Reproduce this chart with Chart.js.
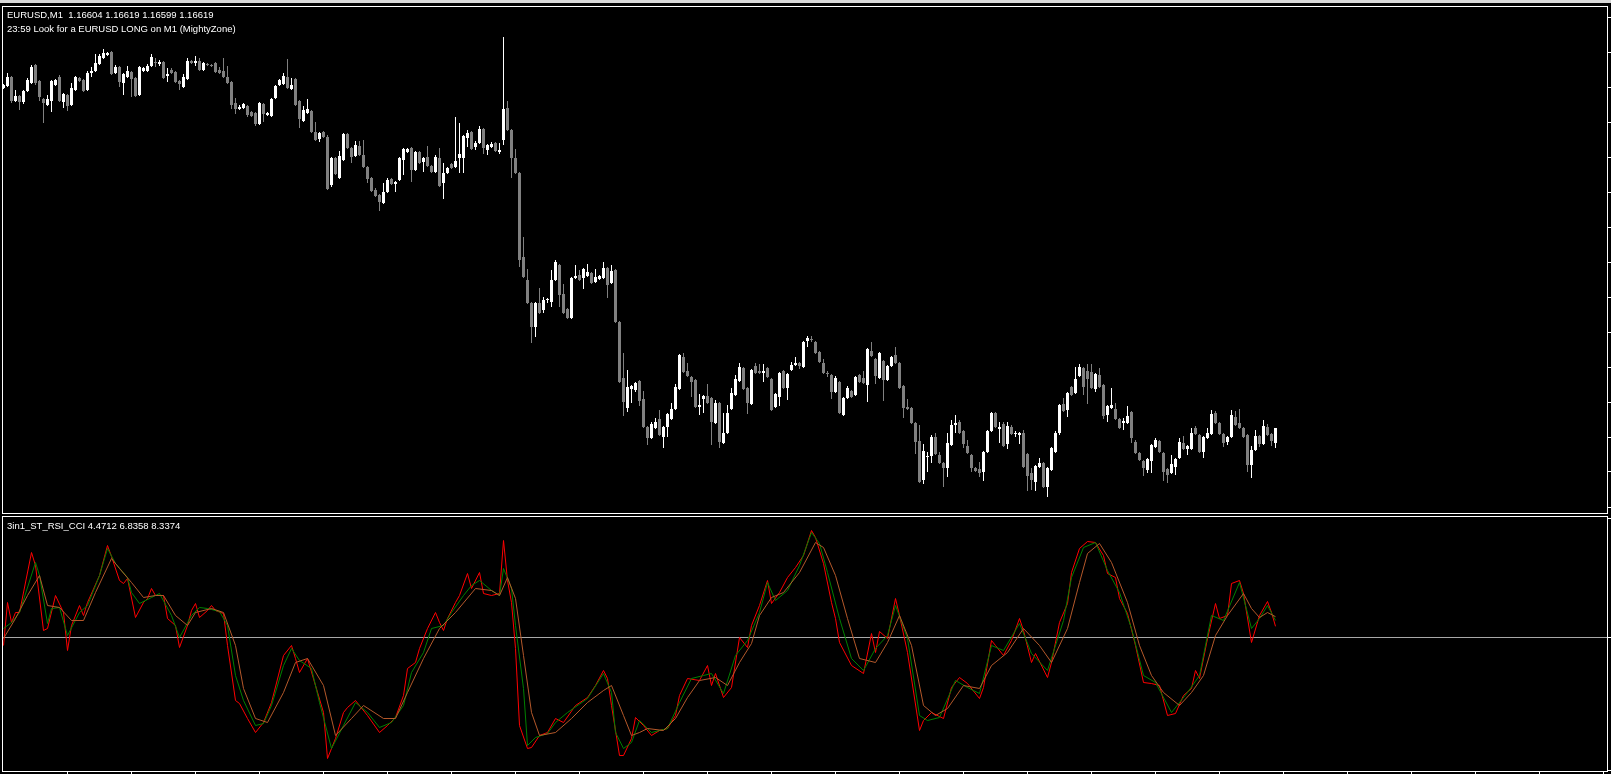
<!DOCTYPE html>
<html>
<head>
<meta charset="utf-8">
<title>EURUSD,M1</title>
<script src="https://cdn.jsdelivr.net/npm/chart.js@4.4.1/dist/chart.umd.min.js"></script>
<style>
  html, body { margin: 0; padding: 0; background: #000; width: 1611px; height: 774px; overflow: hidden; }
  #chrome { position: absolute; left: 0; top: 0; width: 1611px; height: 3px; background: #d8d8d8; }
  canvas { position: absolute; left: 3px; }
  #priceChart { top: 7px; }
  #indChart { top: 517px; }
  .frame { position: absolute; left: 2px; width: 1606px; border: 1px solid #fff; box-sizing: border-box; pointer-events: none; }
  #priceFrame { top: 6px; height: 508px; }
  #indFrame { top: 516px; height: 256px; }
  .lbl { position: absolute; left: 7px; color: #fff; font: 9.5px "Liberation Sans", Arial, sans-serif; line-height: 13px; white-space: pre; }
</style>
</head>
<body>
<div id="chrome"></div>
<canvas id="priceChart" width="1608" height="506"></canvas>
<canvas id="indChart" width="1608" height="257"></canvas>
<div class="frame" id="priceFrame"></div>
<div class="frame" id="indFrame"></div>
<div class="lbl" style="top:8px">EURUSD,M1  1.16604 1.16619 1.16599 1.16619</div>
<div class="lbl" style="top:22px">23:59 Look for a EURUSD LONG on M1 (MightyZone)</div>
<div class="lbl" style="top:519px">3in1_ST_RSI_CCI 4.4712 6.8358 8.3374</div>
<script>
// M1 candles, oldest first
const opens = [
  1.16959,1.16961,1.16970,1.16946,1.16951,1.16945,1.16956,1.16964,1.16982,1.16966,
  1.16948,1.16942,1.16946,1.16962,1.16970,1.16945,1.16952,1.16942,1.16957,1.16969,
  1.16967,1.16957,1.16974,1.16976,1.16983,1.16989,1.16992,1.16995,1.16974,1.16980,
  1.16964,1.16970,1.16975,1.16969,1.16952,1.16976,1.16976,1.16981,1.16985,1.16983,
  1.16985,1.16971,1.16977,1.16975,1.16966,1.16960,1.16968,1.16986,1.16984,1.16986,
  1.16977,1.16983,1.16982,1.16984,1.16977,1.16976,1.16970,1.16965,1.16944,1.16938,
  1.16939,1.16941,1.16935,1.16934,1.16923,1.16943,1.16932,1.16931,1.16949,1.16962,
  1.16963,1.16970,1.16958,1.16968,1.16946,1.16926,1.16934,1.16936,1.16915,1.16908,
  1.16915,1.16910,1.16862,1.16889,1.16869,1.16887,1.16913,1.16899,1.16891,1.16901,
  1.16892,1.16880,1.16869,1.16857,1.16852,1.16844,1.16855,1.16868,1.16863,1.16867,
  1.16887,1.16895,1.16899,1.16877,1.16895,1.16885,1.16890,1.16881,1.16875,1.16889,
  1.16864,1.16874,1.16883,1.16880,1.16889,1.16889,1.16909,1.16915,1.16900,1.16904,
  1.16918,1.16897,1.16900,1.16904,1.16895,1.16907,1.16939,1.16917,1.16889,1.16874,
  1.16790,1.16767,1.16744,1.16720,1.16744,1.16737,1.16747,1.16745,1.16767,1.16782,
  1.16753,1.16738,1.16729,1.16769,1.16772,1.16769,1.16771,1.16774,1.16765,1.16768,
  1.16769,1.16779,1.16764,1.16777,1.16725,1.16669,1.16639,1.16658,1.16657,1.16666,
  1.16648,1.16620,1.16609,1.16619,1.16628,1.16610,1.16620,1.16628,1.16638,1.16658,
  1.16690,1.16676,1.16670,1.16667,1.16640,1.16648,1.16651,1.16649,1.16624,1.16644,
  1.16604,1.16614,1.16638,1.16652,1.16666,1.16679,1.16659,1.16643,1.16681,1.16676,
  1.16674,1.16679,1.16668,1.16640,1.16650,1.16676,1.16659,1.16677,1.16682,1.16684,
  1.16680,1.16706,1.16708,1.16705,1.16695,1.16684,1.16674,1.16672,1.16655,1.16665,
  1.16632,1.16649,1.16656,1.16652,1.16672,1.16669,1.16662,1.16696,1.16688,1.16669,
  1.16686,1.16667,1.16681,1.16692,1.16684,1.16661,1.16640,1.16639,1.16624,1.16606,
  1.16567,1.16590,1.16591,1.16610,1.16592,1.16584,1.16579,1.16602,1.16622,1.16625,
  1.16616,1.16601,1.16592,1.16579,1.16578,1.16575,1.16595,1.16616,1.16634,1.16618,
  1.16623,1.16603,1.16620,1.16613,1.16612,1.16614,1.16593,1.16574,1.16565,1.16580,
  1.16584,1.16560,1.16577,1.16595,1.16614,1.16643,1.16637,1.16660,1.16654,1.16671,
  1.16679,1.16676,1.16675,1.16658,1.16672,1.16662,1.16632,1.16639,1.16638,1.16628,
  1.16624,1.16624,1.16635,1.16605,1.16594,1.16586,1.16577,1.16586,1.16600,1.16606,
  1.16594,1.16578,1.16574,1.16580,1.16589,1.16604,1.16598,1.16598,1.16619,1.16612,
  1.16595,1.16609,1.16613,1.16634,1.16624,1.16613,1.16605,1.16610,1.16630,1.16624,
  1.16619,1.16612,1.16582,1.16597,1.16611,1.16603,1.16620,1.16613,1.16604
];
const highs = [
  1.16963,1.16974,1.16971,1.16957,1.16952,1.16957,1.16969,1.16982,1.16983,1.16967,
  1.16949,1.16952,1.16967,1.16968,1.16972,1.16954,1.16953,1.16964,1.16971,1.16970,
  1.16968,1.16976,1.16980,1.16993,1.16993,1.16998,1.16995,1.16996,1.16982,1.16981,
  1.16974,1.16981,1.16976,1.16970,1.16981,1.16980,1.16983,1.16993,1.16989,1.16987,
  1.16986,1.16979,1.16979,1.16976,1.16967,1.16973,1.16989,1.16987,1.16991,1.16989,
  1.16985,1.16984,1.16983,1.16985,1.16980,1.16989,1.16981,1.16966,1.16949,1.16942,
  1.16944,1.16942,1.16936,1.16935,1.16945,1.16944,1.16935,1.16949,1.16962,1.16968,
  1.16974,1.16988,1.16969,1.16969,1.16947,1.16941,1.16948,1.16937,1.16925,1.16915,
  1.16916,1.16912,1.16890,1.16890,1.16896,1.16914,1.16914,1.16900,1.16906,1.16906,
  1.16907,1.16881,1.16870,1.16859,1.16853,1.16864,1.16869,1.16869,1.16866,1.16890,
  1.16899,1.16899,1.16900,1.16896,1.16896,1.16890,1.16901,1.16882,1.16892,1.16899,
  1.16884,1.16880,1.16884,1.16930,1.16924,1.16912,1.16917,1.16916,1.16906,1.16921,
  1.16919,1.16903,1.16905,1.16905,1.16904,1.17010,1.16946,1.16918,1.16898,1.16875,
  1.16810,1.16778,1.16745,1.16745,1.16759,1.16750,1.16749,1.16777,1.16787,1.16783,
  1.16763,1.16739,1.16770,1.16782,1.16777,1.16779,1.16783,1.16775,1.16778,1.16772,
  1.16785,1.16780,1.16782,1.16778,1.16726,1.16694,1.16677,1.16662,1.16665,1.16667,
  1.16656,1.16621,1.16625,1.16629,1.16637,1.16621,1.16634,1.16644,1.16663,1.16693,
  1.16694,1.16684,1.16671,1.16668,1.16653,1.16652,1.16663,1.16650,1.16647,1.16645,
  1.16634,1.16642,1.16659,1.16672,1.16684,1.16680,1.16660,1.16678,1.16684,1.16683,
  1.16683,1.16680,1.16669,1.16654,1.16675,1.16677,1.16674,1.16685,1.16690,1.16685,
  1.16706,1.16711,1.16711,1.16706,1.16696,1.16688,1.16676,1.16673,1.16671,1.16666,
  1.16650,1.16661,1.16657,1.16671,1.16673,1.16676,1.16699,1.16705,1.16689,1.16695,
  1.16687,1.16682,1.16691,1.16700,1.16685,1.16662,1.16648,1.16640,1.16625,1.16622,
  1.16603,1.16595,1.16612,1.16614,1.16595,1.16585,1.16614,1.16627,1.16632,1.16627,
  1.16617,1.16607,1.16593,1.16580,1.16585,1.16596,1.16617,1.16635,1.16635,1.16625,
  1.16625,1.16625,1.16622,1.16616,1.16615,1.16617,1.16594,1.16579,1.16582,1.16589,
  1.16585,1.16580,1.16600,1.16616,1.16643,1.16649,1.16655,1.16661,1.16680,1.16683,
  1.16680,1.16683,1.16683,1.16674,1.16679,1.16663,1.16642,1.16659,1.16644,1.16629,
  1.16629,1.16641,1.16636,1.16607,1.16595,1.16587,1.16589,1.16603,1.16609,1.16607,
  1.16595,1.16579,1.16592,1.16589,1.16609,1.16611,1.16602,1.16619,1.16621,1.16613,
  1.16611,1.16619,1.16637,1.16636,1.16625,1.16614,1.16611,1.16637,1.16636,1.16638,
  1.16620,1.16613,1.16601,1.16617,1.16612,1.16627,1.16623,1.16614,1.16619
];
const lows = [
  1.16958,1.16960,1.16944,1.16945,1.16937,1.16943,1.16955,1.16963,1.16962,1.16946,
  1.16924,1.16941,1.16935,1.16961,1.16945,1.16939,1.16936,1.16941,1.16956,1.16965,
  1.16955,1.16956,1.16970,1.16975,1.16982,1.16988,1.16991,1.16972,1.16973,1.16960,
  1.16952,1.16969,1.16950,1.16950,1.16951,1.16975,1.16975,1.16980,1.16980,1.16981,
  1.16968,1.16965,1.16973,1.16964,1.16957,1.16959,1.16967,1.16983,1.16981,1.16976,
  1.16976,1.16981,1.16980,1.16974,1.16973,1.16969,1.16963,1.16938,1.16933,1.16937,
  1.16938,1.16930,1.16930,1.16921,1.16922,1.16925,1.16931,1.16930,1.16948,1.16961,
  1.16962,1.16958,1.16957,1.16941,1.16919,1.16925,1.16933,1.16914,1.16906,1.16905,
  1.16909,1.16857,1.16860,1.16872,1.16868,1.16886,1.16898,1.16884,1.16890,1.16891,
  1.16879,1.16864,1.16855,1.16850,1.16836,1.16843,1.16854,1.16862,1.16855,1.16866,
  1.16872,1.16894,1.16865,1.16876,1.16883,1.16875,1.16880,1.16874,1.16874,1.16860,
  1.16848,1.16873,1.16878,1.16879,1.16874,1.16874,1.16900,1.16897,1.16897,1.16903,
  1.16893,1.16892,1.16899,1.16895,1.16893,1.16902,1.16916,1.16869,1.16873,1.16780,
  1.16769,1.16743,1.16704,1.16710,1.16733,1.16734,1.16744,1.16740,1.16766,1.16740,
  1.16733,1.16728,1.16728,1.16768,1.16766,1.16758,1.16770,1.16763,1.16764,1.16767,
  1.16768,1.16749,1.16763,1.16724,1.16664,1.16631,1.16635,1.16644,1.16655,1.16641,
  1.16619,1.16602,1.16608,1.16618,1.16611,1.16599,1.16610,1.16627,1.16637,1.16657,
  1.16674,1.16670,1.16650,1.16639,1.16632,1.16634,1.16643,1.16602,1.16623,1.16599,
  1.16603,1.16613,1.16637,1.16651,1.16665,1.16657,1.16633,1.16642,1.16673,1.16673,
  1.16665,1.16669,1.16636,1.16639,1.16641,1.16658,1.16647,1.16676,1.16681,1.16678,
  1.16679,1.16700,1.16705,1.16693,1.16684,1.16673,1.16670,1.16648,1.16654,1.16633,
  1.16631,1.16648,1.16649,1.16651,1.16664,1.16663,1.16645,1.16690,1.16663,1.16668,
  1.16646,1.16666,1.16680,1.16683,1.16658,1.16629,1.16637,1.16623,1.16593,1.16564,
  1.16563,1.16575,1.16584,1.16592,1.16583,1.16560,1.16570,1.16601,1.16614,1.16613,
  1.16599,1.16593,1.16575,1.16575,1.16570,1.16566,1.16594,1.16615,1.16619,1.16604,
  1.16600,1.16598,1.16612,1.16610,1.16603,1.16579,1.16556,1.16557,1.16556,1.16579,
  1.16559,1.16550,1.16576,1.16594,1.16612,1.16635,1.16630,1.16651,1.16653,1.16670,
  1.16652,1.16643,1.16658,1.16655,1.16659,1.16628,1.16625,1.16638,1.16627,1.16618,
  1.16617,1.16623,1.16604,1.16593,1.16586,1.16571,1.16574,1.16574,1.16599,1.16594,
  1.16566,1.16564,1.16573,1.16572,1.16588,1.16597,1.16592,1.16597,1.16612,1.16594,
  1.16589,1.16608,1.16612,1.16623,1.16612,1.16600,1.16602,1.16609,1.16621,1.16618,
  1.16609,1.16575,1.16569,1.16596,1.16600,1.16602,1.16611,1.16601,1.16599
];
const closes = [
  1.16962,1.16970,1.16946,1.16951,1.16945,1.16956,1.16967,1.16980,1.16964,1.16950,
  1.16944,1.16948,1.16966,1.16967,1.16946,1.16953,1.16941,1.16959,1.16970,1.16966,
  1.16956,1.16974,1.16976,1.16984,1.16991,1.16994,1.16994,1.16973,1.16980,1.16965,
  1.16973,1.16976,1.16968,1.16951,1.16980,1.16979,1.16981,1.16990,1.16984,1.16985,
  1.16969,1.16973,1.16974,1.16965,1.16963,1.16970,1.16986,1.16984,1.16986,1.16977,
  1.16984,1.16982,1.16981,1.16975,1.16974,1.16970,1.16964,1.16942,1.16938,1.16940,
  1.16943,1.16932,1.16931,1.16923,1.16944,1.16933,1.16934,1.16948,1.16961,1.16967,
  1.16971,1.16959,1.16962,1.16942,1.16928,1.16937,1.16938,1.16915,1.16907,1.16914,
  1.16910,1.16858,1.16889,1.16873,1.16891,1.16913,1.16899,1.16890,1.16902,1.16892,
  1.16880,1.16868,1.16856,1.16851,1.16845,1.16855,1.16867,1.16863,1.16865,1.16889,
  1.16898,1.16898,1.16877,1.16895,1.16884,1.16889,1.16881,1.16875,1.16890,1.16861,
  1.16874,1.16879,1.16879,1.16886,1.16893,1.16911,1.16914,1.16898,1.16904,1.16918,
  1.16899,1.16902,1.16903,1.16896,1.16897,1.16938,1.16917,1.16889,1.16874,1.16787,
  1.16770,1.16744,1.16720,1.16744,1.16734,1.16747,1.16747,1.16767,1.16785,1.16752,
  1.16734,1.16729,1.16769,1.16771,1.16767,1.16778,1.16775,1.16764,1.16770,1.16771,
  1.16779,1.16762,1.16776,1.16725,1.16665,1.16645,1.16660,1.16661,1.16664,1.16646,
  1.16620,1.16609,1.16623,1.16625,1.16612,1.16620,1.16633,1.16638,1.16660,1.16692,
  1.16675,1.16671,1.16665,1.16640,1.16642,1.16651,1.16644,1.16625,1.16644,1.16605,
  1.16614,1.16634,1.16654,1.16668,1.16680,1.16658,1.16644,1.16677,1.16674,1.16674,
  1.16676,1.16670,1.16637,1.16653,1.16674,1.16659,1.16673,1.16682,1.16684,1.16681,
  1.16705,1.16709,1.16707,1.16694,1.16685,1.16674,1.16673,1.16655,1.16669,1.16634,
  1.16649,1.16659,1.16650,1.16670,1.16665,1.16664,1.16698,1.16691,1.16671,1.16694,
  1.16667,1.16681,1.16690,1.16684,1.16659,1.16639,1.16638,1.16624,1.16605,1.16565,
  1.16596,1.16591,1.16610,1.16593,1.16584,1.16579,1.16604,1.16622,1.16624,1.16614,
  1.16603,1.16594,1.16579,1.16576,1.16574,1.16595,1.16616,1.16634,1.16620,1.16620,
  1.16601,1.16621,1.16613,1.16613,1.16614,1.16580,1.16571,1.16567,1.16581,1.16584,
  1.16560,1.16579,1.16599,1.16614,1.16642,1.16636,1.16654,1.16652,1.16668,1.16680,
  1.16660,1.16668,1.16659,1.16673,1.16660,1.16631,1.16641,1.16642,1.16628,1.16619,
  1.16626,1.16631,1.16609,1.16594,1.16587,1.16579,1.16588,1.16602,1.16607,1.16595,
  1.16575,1.16572,1.16583,1.16588,1.16605,1.16598,1.16601,1.16614,1.16613,1.16595,
  1.16610,1.16614,1.16633,1.16624,1.16613,1.16604,1.16610,1.16632,1.16622,1.16619,
  1.16610,1.16582,1.16597,1.16611,1.16603,1.16621,1.16612,1.16606,1.16619
];

// price scale tick marks (labels are cut off at the window edge)
const priceTicks = [1.17030, 1.16995, 1.16960, 1.16925, 1.16890, 1.16855, 1.16820, 1.16785,
                    1.16750, 1.16715, 1.16680, 1.16645, 1.16610, 1.16575, 1.16540];
// time scale tick marks, in bars
const timeTicks = [16, 32, 48, 64, 80, 96, 112, 128, 144, 160, 176, 192, 208,
                   224, 240, 256, 272, 288, 304, 320, 336, 352, 368, 384, 400];
const indTicks = [47.8, 0, -53.0];
const levels = [0];

// 3in1_ST_RSI_CCI lines: bar index + value at each turning point
const redIdx = [0,1,2,3,4,7,8,10,11,13,15,16,17,19,20,21,24,26,27,29,30,31,33,35,36,37,38,40,41,43,44,46,47,48,49,
  51,52,53,55,56,58,59,61,63,65,67,70,72,73,74,76,78,80,81,83,85,86,88,91,94,96,98,100,101,103,104,106,108,109,
  110,111,113,114,116,117,119,120,122,124,125,126,127,128,129,131,132,134,136,138,140,143,146,148,150,151,152,
  154,155,157,158,160,162,164,166,168,169,171,174,176,177,178,180,182,184,186,187,189,191,192,194,196,198,200,
  202,203,205,207,208,209,212,215,217,218,219,221,223,224,226,229,230,232,235,237,239,241,244,245,247,248,250,
  252,254,255,257,258,261,262,264,266,267,269,271,273,275,276,278,279,281,283,285,287,289,291,293,295,297,298,
  299,301,303,304,306,307,309,310,312,314,316,317,318];
const redVal = [-3.2,14.0,6.0,10.0,10.0,34.0,28.8,2.8,3.6,16.8,10.0,-5.2,4.8,12.8,8.8,14.0,24.8,36.8,32.4,22.8,
  21.6,23.6,8.0,14.0,15.6,19.6,16.8,16.8,7.6,4.8,-4.0,4.8,10.8,13.6,8.0,
  10.8,12.8,10.8,9.6,-3.2,-25.2,-26.4,-32.4,-38.0,-34.0,-26.0,-7.2,-3.2,-8.4,-14.0,-8.4,-19.2,-30.0,-48.4,-40.4,
  -30.0,-28.0,-25.2,-31.2,-38.0,-35.2,-32.0,-23.2,-12.4,-10.0,-4.4,3.6,10.0,6.0,
  2.8,7.6,14.0,16.8,25.6,19.6,26.0,17.6,16.8,17.6,38.8,22.8,14.0,-4.4,-35.2,-44.4,-44.0,-39.2,-38.0,-32.4,-34.0,
  -27.2,-24.0,-19.2,-13.2,-16.4,-27.2,
  -47.2,-47.2,-40.4,-32.0,-35.2,-39.2,-37.2,-36.4,-31.2,-23.2,-16.4,-17.2,-11.2,-19.2,-14.4,-24.0,-20.0,0,-4.0,
  4.8,12.8,22.8,13.6,18.0,24.0,28.0,32.8,
  42.8,40.0,29.6,14.0,7.6,-2.0,-11.2,-14.4,1.6,-6.0,2.4,-0.4,15.6,8.8,-6.0,-37.2,-33.2,-30.0,-32.4,-20.0,-16.0,
  -18.4,-24.4,-20.0,-1.2,-3.2,-7.2,
  -1.2,7.6,2.8,-10.0,-6.4,-16.0,-10.0,6.0,13.6,26.0,35.6,38.4,38.0,32.8,25.6,24.0,15.6,9.6,-3.2,-18.0,-18.4,-19.2,
  -31.2,-30.4,-23.2,-20.4,-13.2,
  -16.4,-0.4,13.6,7.6,8.8,21.6,22.8,17.6,-2.0,8.8,14.4,10.0,4.4712];

const greenIdx = [0,2,4,8,9,11,12,14,16,19,21,24,26,28,31,32,34,37,39,42,44,47,49,51,54,56,58,60,63,65,67,70,72,
  74,77,79,82,85,88,91,94,97,100,102,105,107,110,112,115,117,119,122,124,125,127,128,130,131,133,136,138,141,
  146,150,152,153,155,157,159,162,166,169,172,175,177,180,183,186,189,191,193,196,199,202,204,206,209,212,215,
  218,221,223,226,229,231,234,238,241,244,247,250,254,257,261,265,267,270,273,276,279,282,285,288,292,296,299,
  302,305,309,312,314,316,318];
const greenVal = [3.6,6.0,10.0,30.0,24.8,5.6,11.6,12.0,0.8,10.0,12.8,24.8,35.6,29.6,24.0,18.0,13.6,16.0,17.6,8.8,
  0,8.8,12.0,11.6,10.4,4.8,-15.2,-25.2,-35.2,-34.4,-27.2,-11.2,-4.4,
  -9.2,-12.4,-26.0,-44.4,-35.2,-26.0,-30.0,-36.0,-34.0,-27.2,-14.0,-6.0,3.6,4.8,10.0,16.8,20.8,22.8,18.8,16.8,
  27.6,19.6,4.8,-20.4,-43.2,-40.0,-38.4,-34.0,-30.0,
  -24.4,-14.4,-22.0,-38.0,-44.4,-42.0,-33.2,-38.0,-36.4,-26.0,-16.4,-15.2,-14.4,-22.4,-7.2,-1.2,10.0,22.0,14.8,
  18.8,28.8,42.0,37.6,26.0,7.6,-8.4,-13.2,
  -4.4,0.8,12.8,-0.4,-31.2,-33.2,-32.0,-17.2,-20.0,-22.4,-3.2,-5.2,5.6,-6.4,-13.2,6.8,24.0,36.0,38.0,26.8,18.0,
  3.6,-15.2,-18.0,-30.0,-22.0,-15.2,
  8.8,6.8,22.0,3.6,7.6,12.8,6.8358];

const tanIdx = [0,3,6,9,11,14,17,20,23,27,29,32,35,38,40,43,46,48,52,55,58,60,63,66,70,73,76,80,83,87,90,95,98,
  101,105,109,113,118,122,124,126,128,130,132,134,138,142,146,150,152,155,157,159,161,165,168,171,174,178,181,
  184,187,189,192,195,199,203,205,208,211,214,218,221,224,227,230,233,236,240,244,247,251,255,259,262,266,269,
  271,274,277,281,284,287,290,294,297,300,303,306,310,312,314,316,318];
const tanVal = [-0.4,7.6,16.8,24.8,12.8,12.0,6.8,6.8,18.0,31.6,27.6,22.0,16.0,16.8,16.8,8.8,4.8,10.0,11.6,10.0,
  -3.2,-20.4,-32.4,-34.0,-22.0,-10.0,-8.4,-19.2,-39.2,-32.4,-27.2,-32.4,-32.4,
  -22.0,-8.4,3.6,10.0,19.6,18.8,16.8,24.0,15.6,-7.2,-30.0,-39.2,-38.0,-32.4,-26.0,-21.2,-19.2,-31.2,-39.2,-38.0,
  -36.4,-37.2,-32.4,-24.0,-17.2,-16.0,-19.2,
  -10.0,-2.4,8.8,16.0,18.0,26.0,38.0,36.0,24.8,7.6,-8.4,-10.0,-2.0,8.8,-3.2,-27.2,-31.2,-28.4,-19.2,-20.4,-11.2,
  -6.0,3.6,-3.2,-10.0,3.6,22.0,
  33.6,37.6,30.0,14.0,-3.2,-15.2,-22.0,-27.2,-22.0,-15.2,0.8,8.8,17.6,11.6,8.0,10.0,8.3374];

// bar slots: the window is 4px per bar, first bar centred half a pixel in
const xMin = -0.125;
const xMax = 400.875;

function points(idx, vals) {
  return idx.map(function(x, i) { return { x: x, y: vals[i] }; });
}

function tickMarks(list) {
  return function(axis) {
    axis.ticks = list.map(function(v) { return { value: v }; });
  };
}

function renderPriceChart() {
  var colors = closes.map(function(c, i) { return c >= opens[i] ? '#ffffff' : '#808080'; });
  var wicks = lows.map(function(l, i) { return { x: i, y: [l, highs[i]] }; });
  var bodies = opens.map(function(o, i) { return { x: i, y: [o, closes[i]] }; });

  new Chart(document.getElementById('priceChart'), {
    type: 'bar',
    data: {
      datasets: [
        { data: wicks, backgroundColor: colors, barThickness: 1, grouped: false, borderWidth: 0, inflateAmount: 0 },
        { data: bodies, backgroundColor: colors, barThickness: 3, grouped: false, borderWidth: 0, inflateAmount: 0, minBarLength: 1 }
      ]
    },
    options: {
      responsive: false,
      animation: false,
      events: [],
      layout: { padding: 0 },
      plugins: { legend: { display: false }, tooltip: { enabled: false } },
      scales: {
        x: { type: 'linear', min: xMin, max: xMax, offset: false, display: false },
        y: {
          position: 'right',
          min: 1.16534,
          max: 1.17040,
          afterBuildTicks: tickMarks(priceTicks),
          afterFit: function(s) { s.width = 4; },
          ticks: { display: false },
          border: { display: false },
          grid: { drawOnChartArea: false, tickLength: 4, color: '#ffffff', lineWidth: 1 }
        }
      }
    }
  });
}

function renderIndicatorChart() {
  var lineStyle = { borderWidth: 1, pointRadius: 0, tension: 0, fill: false };

  new Chart(document.getElementById('indChart'), {
    type: 'line',
    data: {
      datasets: [
        Object.assign({ data: points(tanIdx, tanVal), borderColor: '#b4582a' }, lineStyle),
        Object.assign({ data: points(greenIdx, greenVal), borderColor: '#008000' }, lineStyle),
        Object.assign({ data: points(redIdx, redVal), borderColor: '#ff0000' }, lineStyle)
      ]
    },
    options: {
      responsive: false,
      animation: false,
      events: [],
      layout: { padding: 0 },
      plugins: { legend: { display: false }, tooltip: { enabled: false } },
      scales: {
        x: {
          type: 'linear', min: xMin, max: xMax, offset: false,
          afterBuildTicks: tickMarks(timeTicks),
          afterFit: function(s) { s.height = 3; },
          ticks: { display: false },
          border: { display: false },
          grid: { drawOnChartArea: false, tickLength: 3, color: '#ffffff' }
        },
        y: {
          position: 'right',
          min: -53.4,
          max: 48.2,
          afterBuildTicks: tickMarks(indTicks),
          afterFit: function(s) { s.width = 4; },
          ticks: { display: false },
          border: { display: false },
          grid: { drawOnChartArea: false, tickLength: 4, color: '#ffffff' }
        },
        // level line at zero
        lvl: {
          position: 'left',
          min: -53.4,
          max: 48.2,
          afterBuildTicks: tickMarks(levels),
          afterFit: function(s) { s.width = 0; },
          ticks: { display: false },
          border: { display: false },
          grid: { drawTicks: false, color: '#a8a8a8' }
        }
      }
    }
  });
}

renderPriceChart();
renderIndicatorChart();
</script>
</body>
</html>
